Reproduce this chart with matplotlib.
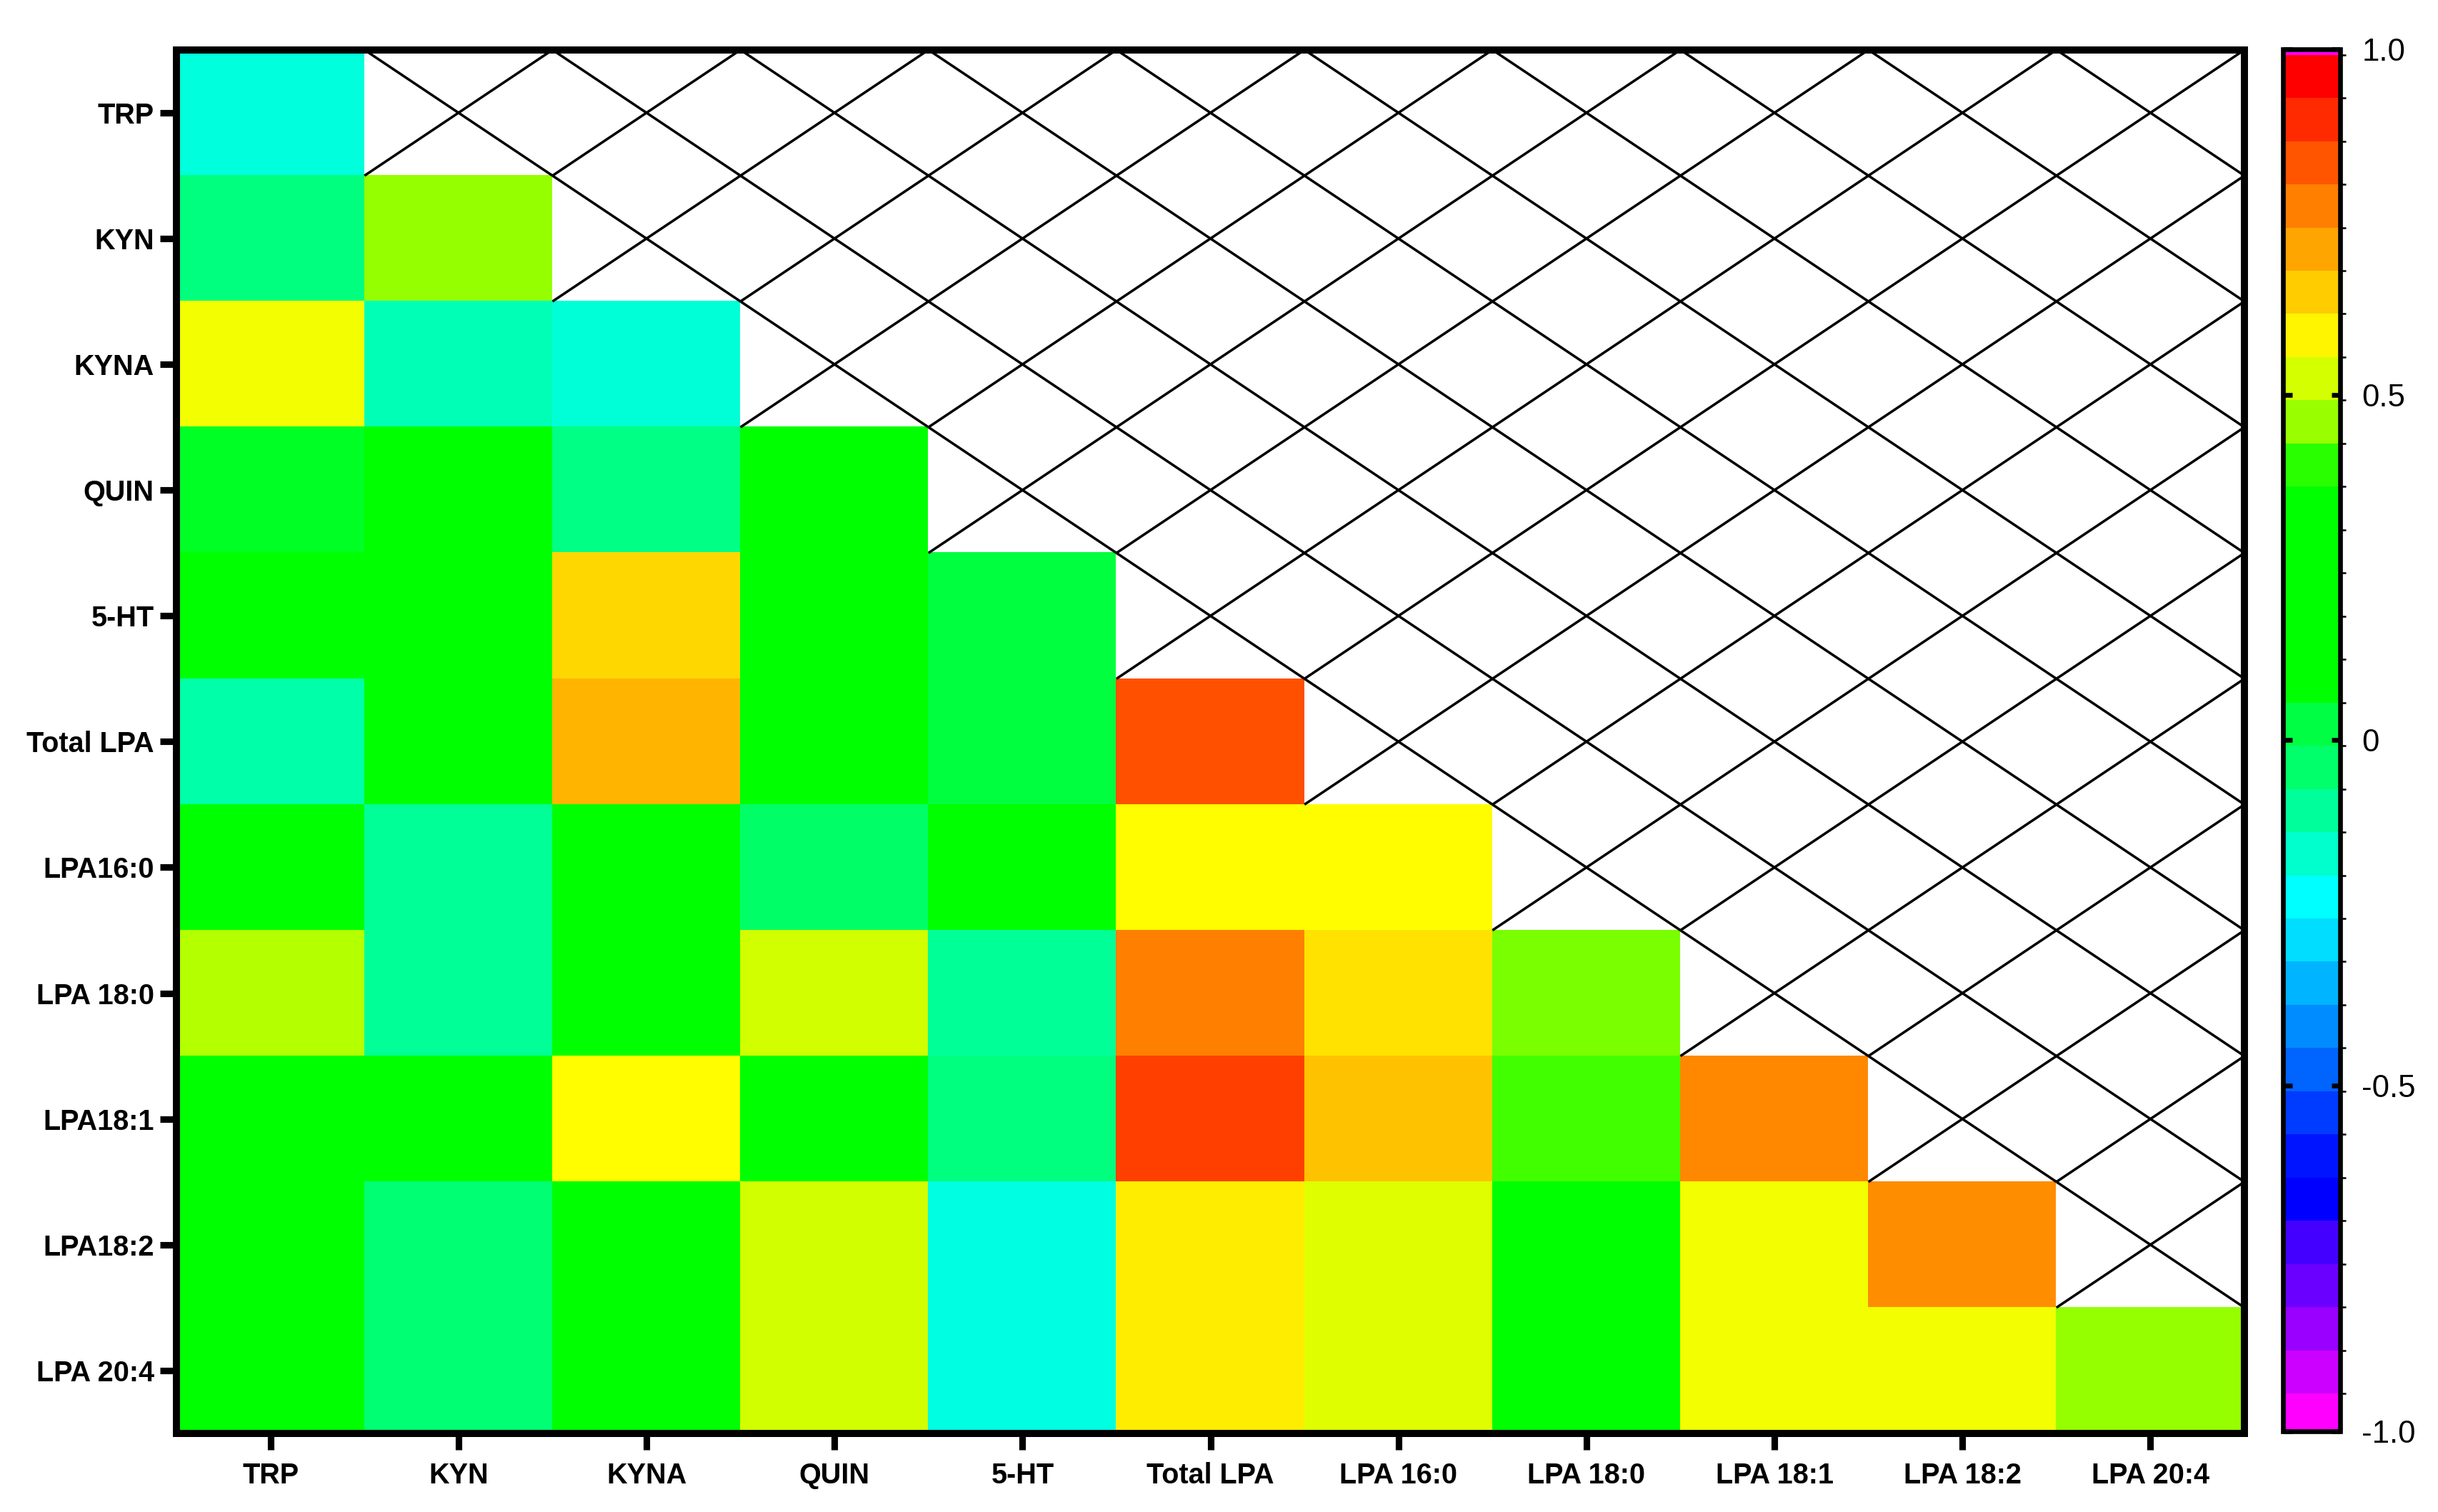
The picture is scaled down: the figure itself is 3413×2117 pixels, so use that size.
import numpy as np
import matplotlib
matplotlib.use("Agg")
import matplotlib.pyplot as plt
from matplotlib.colors import LinearSegmentedColormap, ListedColormap, BoundaryNorm, Normalize
from matplotlib.cm import ScalarMappable

plt.rcParams['font.family'] = ['Liberation Sans', 'DejaVu Sans']

# ---------------- data ----------------
row_labels = ['TRP', 'KYN', 'KYNA', 'QUIN', '5-HT', 'Total LPA', 'LPA16:0',
              'LPA 18:0', 'LPA18:1', 'LPA18:2', 'LPA 20:4']
col_labels = ['TRP', 'KYN', 'KYNA', 'QUIN', '5-HT', 'Total LPA', 'LPA 16:0',
              'LPA 18:0', 'LPA 18:1', 'LPA 18:2', 'LPA 20:4']

r_trp = [-0.185]
r_kyn = [-0.068, 0.455]
r_kyna = [0.559, -0.140, -0.174]
r_quin = [0.047, 0.210, -0.078, 0.190]
r_5ht = [0.180, 0.220, 0.632, 0.200, 0.027]
r_total = [-0.122, 0.190, 0.686, 0.230, 0.027, 0.836]
r_16_0 = [0.210, -0.101, 0.170, -0.035, 0.200, 0.575, 0.578]
r_18_0 = [0.489, -0.101, 0.220, 0.523, -0.101, 0.771, 0.612, 0.442]
r_18_1 = [0.200, 0.180, 0.575, 0.210, -0.068, 0.861, 0.662, 0.413, 0.752]
r_18_2 = [0.190, -0.050, 0.200, 0.523, -0.188, 0.594, 0.538, 0.230, 0.559, 0.747]
r_20_4 = [0.190, -0.050, 0.200, 0.523, -0.188, 0.594, 0.538, 0.230, 0.559, 0.559, 0.455]

rows = [r_trp, r_kyn, r_kyna, r_quin, r_5ht, r_total, r_16_0, r_18_0, r_18_1, r_18_2, r_20_4]

n = len(row_labels)
mat = np.full((n, len(col_labels)), np.nan)
for i, r in enumerate(rows):
    mat[i, :len(r)] = r

# ---------------- colour scale ----------------
stops = [(-1.0, '#ff00ff'), (-0.914, '#cc00ff'), (-0.852, '#9900ff'), (-0.789, '#6a00ff'),
         (-0.727, '#4400ff'), (-0.664, '#0000ff'), (-0.602, '#0014ff'), (-0.539, '#003cff'),
         (-0.477, '#0064ff'), (-0.414, '#008cff'), (-0.352, '#00b4ff'), (-0.289, '#00ddff'),
         (-0.227, '#00ffff'), (-0.164, '#00ffcc'), (-0.102, '#00ff9a'), (-0.039, '#00ff6a'),
         (0.023, '#00ff44'), (0.086, '#00ff00'), (0.336, '#00ff00'), (0.398, '#2aff00'),
         (0.461, '#99ff00'), (0.523, '#d4ff00'), (0.575, '#ffff00'), (0.648, '#ffcc00'),
         (0.711, '#ffa500'), (0.773, '#ff7f00'), (0.836, '#ff5500'), (0.898, '#ff2a00'),
         (0.961, '#ff0000'), (1.0, '#ff0000')]
cmap = LinearSegmentedColormap.from_list('prism_like', [((v + 1) / 2, c) for v, c in stops])
cmap.set_bad('white')

bar_colors = ['#ff00ff', '#cc00ff', '#9900ff', '#6a00ff', '#4400ff', '#0000ff', '#0014ff',
              '#003cff', '#0064ff', '#008cff', '#00b4ff', '#00ddff', '#00ffff', '#00ffcc',
              '#00ff9a', '#00ff6a', '#00ff44', '#00ff00', '#00ff00', '#00ff00', '#00ff00',
              '#00ff00', '#2aff00', '#99ff00', '#d4ff00', '#fff500', '#ffcc00', '#ffa500',
              '#ff7f00', '#ff5500', '#ff2a00', '#ff0000', '#ff00ff']
bounds = [-1.0] + [-1.0081 + 0.0625 * k for k in range(1, 33)] + [1.0]

# ---------------- figure ----------------
fig = plt.figure(figsize=(3413 / 300, 2117 / 300), dpi=300)
ax = fig.add_axes([0.0724, 0.052, 0.9206 - 0.0724, 0.967 - 0.052])

ax.imshow(np.ma.masked_invalid(mat), cmap=cmap, norm=Normalize(-1, 1),
          aspect='auto', interpolation='nearest')

for i in range(n):
    for j in range(len(col_labels)):
        if np.isnan(mat[i, j]):
            ax.plot([j - 0.5, j + 0.5], [i - 0.5, i + 0.5], color='black', lw=0.85,
                    solid_capstyle='butt')
            ax.plot([j - 0.5, j + 0.5], [i + 0.5, i - 0.5], color='black', lw=0.85,
                    solid_capstyle='butt')

ax.set_xlim(-0.5, len(col_labels) - 0.5)
ax.set_ylim(n - 0.5, -0.5)
ax.set_xticks(range(len(col_labels)))
ax.set_xticklabels(col_labels, fontsize=9.5, fontweight='bold')
ax.set_yticks(range(n))
ax.set_yticklabels(row_labels, fontsize=9.5, fontweight='bold')
ax.tick_params(axis='both', direction='out', length=5.5, width=2.2, color='black')
ax.tick_params(axis='x', pad=4.2)
ax.tick_params(axis='y', pad=2)
for s in ax.spines.values():
    s.set_linewidth(2.4)

# ---------------- colour bar ----------------
cax = fig.add_axes([0.9364, 0.0535, 0.9599 - 0.9364, 0.9675 - 0.0535])
sm = ScalarMappable(norm=BoundaryNorm(bounds, len(bar_colors)), cmap=ListedColormap(bar_colors))
cb = fig.colorbar(sm, cax=cax, spacing='proportional', ticks=[-1, -0.5, 0, 0.5, 1])
cb.ax.set_yticklabels(['-1.0', '-0.5', '0', '0.5', '1.0'])
cb.outline.set_linewidth(1.6)
cax.tick_params(direction='in', left=True, right=True, labelleft=False, labelright=True,
                length=3, width=1.6, labelsize=10.5, pad=7.2)

fig.savefig('out.png', dpi=300, facecolor='white')
